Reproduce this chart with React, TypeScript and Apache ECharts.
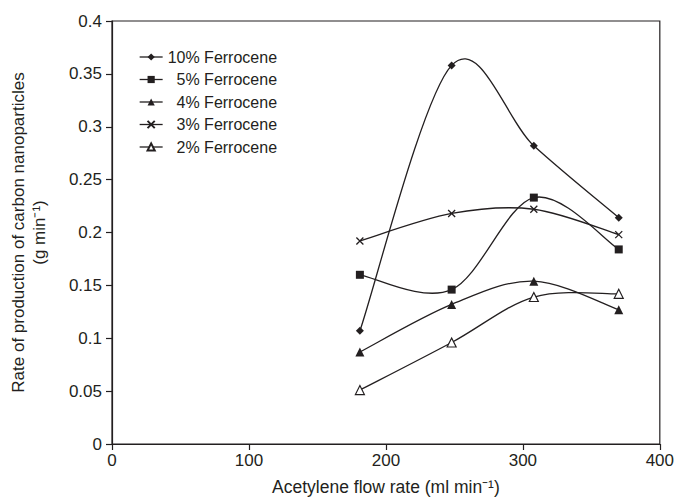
import React, { useEffect, useRef } from "react";
import * as echarts from "echarts";

const flowRates = [181, 248, 308, 370];
const seriesNames = ["10% Ferrocene", "5% Ferrocene", "4% Ferrocene", "3% Ferrocene", "2% Ferrocene"];
const ferrocene10 = [0.107, 0.358, 0.282, 0.214];
const ferrocene5 = [0.16, 0.146, 0.233, 0.184];
const ferrocene4 = [0.087, 0.132, 0.154, 0.127];
const ferrocene3 = [0.192, 0.218, 0.222, 0.198];
const ferrocene2 = [0.051, 0.096, 0.139, 0.142];

const INK = "#231f20";
const FONT = "'Liberation Sans', Arial, sans-serif";

export default function App() {
  const ref = useRef<HTMLDivElement>(null);
  useEffect(() => {
    if (!ref.current) return;
    const chart = echarts.init(ref.current, undefined, { renderer: "svg" });
    const pair = (vals: number[]) => vals.map((v, i) => [flowRates[i], v]);

    // smooth spline (Catmull-Rom style) drawn through the axis scales via api.coord
    const curve = (name: string, vals: number[]) => ({
      type: "custom",
      name: name + " curve",
      data: pair(vals),
      encode: { x: 0, y: 1 },
      silent: true,
      z: 1,
      renderItem: (params: any, api: any) => {
        const i = params.dataIndex;
        const n = vals.length;
        if (i >= n - 1) return null;
        const P = (k: number) => {
          const kk = Math.max(0, Math.min(n - 1, k));
          return api.coord([flowRates[kk], vals[kk]]);
        };
        const p0 = P(i - 1), p1 = P(i), p2 = P(i + 1), p3 = P(i + 2);
        return {
          type: "bezierCurve",
          shape: {
            x1: p1[0],
            y1: p1[1],
            x2: p2[0],
            y2: p2[1],
            cpx1: p1[0] + (p2[0] - p0[0]) / 6,
            cpy1: p1[1] + (p2[1] - p0[1]) / 6,
            cpx2: p2[0] - (p3[0] - p1[0]) / 6,
            cpy2: p2[1] - (p3[1] - p1[1]) / 6,
          },
          style: { stroke: INK, lineWidth: 1.3, fill: "none" },
        };
      },
    });

    const markers = (name: string, vals: number[], symbol: string, size: number, itemStyle: any) => ({
      type: "line",
      name,
      data: pair(vals),
      symbol,
      symbolSize: size,
      showSymbol: true,
      z: 3,
      lineStyle: { color: INK, width: 0, opacity: 0 },
      itemStyle,
      emphasis: { disabled: true },
    });
    const filled = { color: INK, borderWidth: 0 };
    const allVals = [ferrocene10, ferrocene5, ferrocene4, ferrocene3, ferrocene2];
    chart.setOption({
      animation: false,
      textStyle: { fontFamily: FONT, color: INK },
      grid: { left: 111, right: 16, top: 21, bottom: 54, show: true, borderColor: INK, borderWidth: 1.2 },
      legend: {
        orient: "vertical",
        left: 134,
        top: 44,
        itemWidth: 23,
        itemHeight: 9,
        itemGap: 6.5,
        data: seriesNames,
        lineStyle: { color: INK, width: 1.3, opacity: 1 },
        textStyle: { fontSize: 16, color: INK, fontFamily: FONT },
        formatter: (n: string) => (n.startsWith("10") ? n : "\u2007" + n),
        selectedMode: false,
      },
      xAxis: {
        type: "value",
        min: 0,
        max: 400,
        interval: 100,
        name: "Acetylene flow rate (ml min\u207B\u00B9)",
        nameLocation: "middle",
        nameGap: 34,
        nameTextStyle: { fontSize: 17.5, color: INK, fontFamily: FONT },
        axisLine: { show: true, lineStyle: { color: INK, width: 1.2 } },
        axisTick: { show: true, inside: false, length: 6, lineStyle: { color: INK, width: 1.2 } },
        axisLabel: { fontSize: 17, color: INK, margin: 8, fontFamily: FONT },
        splitLine: { show: false },
      },
      yAxis: {
        type: "value",
        min: 0,
        max: 0.4,
        interval: 0.05,
        name: "Rate of production of carbon nanoparticles\n(g min\u207B\u00B9)",
        nameLocation: "middle",
        nameRotate: 90,
        nameGap: 62,
        nameTextStyle: { fontSize: 17, color: INK, fontFamily: FONT, lineHeight: 21 },
        axisLine: { show: true, lineStyle: { color: INK, width: 1.2 } },
        axisTick: { show: true, inside: false, length: 6, lineStyle: { color: INK, width: 1.2 } },
        axisLabel: { fontSize: 17, color: INK, margin: 10, fontFamily: FONT },
        splitLine: { show: false },
      },
      series: [
        ...allVals.map((v, k) => curve(seriesNames[k], v)),
        markers(seriesNames[0], ferrocene10, "diamond", 8, filled),
        markers(seriesNames[1], ferrocene5, "rect", 8, filled),
        markers(seriesNames[2], ferrocene4, "triangle", 9, filled),
        markers(seriesNames[3], ferrocene3, "path://M0,0L10,10M10,0L0,10", 7, {
          color: "#ffffff",
          borderColor: INK,
          borderWidth: 1.3,
        }),
        markers(seriesNames[4], ferrocene2, "triangle", 9, { color: "#ffffff", borderColor: INK, borderWidth: 1.2 }),
      ],
    });
    return () => chart.dispose();
  }, []);
  return <div ref={ref} style={{ width: 677, height: 501, position: "absolute", left: 0, top: 0 }} />;
}
